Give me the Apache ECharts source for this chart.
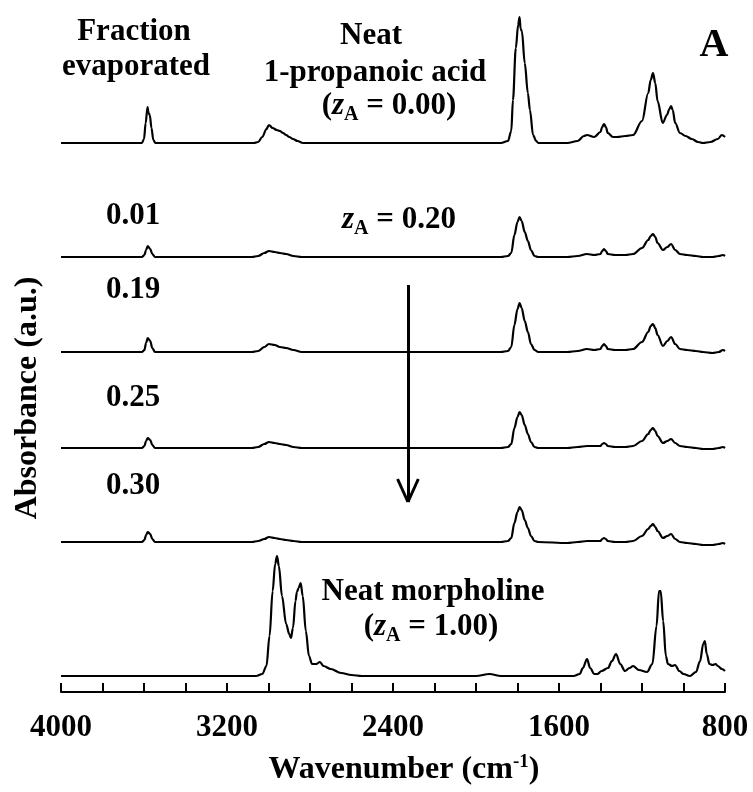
<!DOCTYPE html>
<html>
<head>
<meta charset="UTF-8">
<title>IR spectra</title>
<script src="https://cdn.jsdelivr.net/npm/echarts@6/dist/echarts.min.js"></script>
<style>
  html, body { margin: 0; padding: 0; background: #fff; }
  #main { width: 753px; height: 792px; }
</style>
</head>
<body>
<div id="main"></div>
<script type="text/javascript">
// tick labels on the wavenumber axis (cm-1)
var xTickLabels = [4000, 3200, 2400, 1600, 800];

// neat 1-propanoic acid: wavenumber / absorbance above own baseline
var wnAcid = [4000, 3700, 3610, 3600, 3592, 3583, 3578, 3572, 3564, 3555, 3545,
  3300, 3070, 3050, 3030, 3010, 2998, 2980, 2960, 2945, 2930, 2915, 2900, 2882, 2860, 2834,
  2000, 1880, 1846, 1830, 1822, 1808, 1797, 1790, 1785, 1779, 1765, 1750, 1740, 1725, 1710,
  1700, 1560, 1510, 1480, 1465, 1430, 1400, 1392, 1383, 1374, 1365, 1340, 1320, 1280, 1243,
  1200, 1170, 1158, 1147, 1136, 1125, 1100, 1080, 1068, 1060, 1052, 1040, 1017, 990, 960,
  930, 906, 870, 835, 815, 800];
var absAcid = [0, 0, 0, 0.04, 0.20, 0.36, 0.30, 0.28, 0.15, 0.03, 0,
  0, 0, 0.01, 0.06, 0.14, 0.18, 0.15, 0.13, 0.12, 0.10, 0.08, 0.06, 0.04, 0.02, 0,
  0, 0, 0.02, 0.12, 0.43, 0.95, 1.18, 1.26, 1.14, 1.12, 0.80, 0.50, 0.33, 0.08, 0.02,
  0, 0, 0.02, 0.07, 0.08, 0.06, 0.11, 0.16, 0.19, 0.16, 0.10, 0.06, 0.06, 0.07, 0.08,
  0.22, 0.50, 0.63, 0.70, 0.60, 0.42, 0.20, 0.28, 0.34, 0.37, 0.33, 0.20, 0.10, 0.07, 0.04,
  0.01, 0, 0.01, 0.04, 0.08, 0.06];

// evaporated mixtures (zA = 0.20), fraction evaporated 0.01 / 0.19 / 0.25 / 0.30
var wnMix = [4000, 3700, 3610, 3598, 3590, 3582, 3570, 3560, 3547,
  3300, 3080, 3050, 3020, 2998, 2970, 2945, 2915, 2880, 2840,
  2000, 1880, 1846, 1830, 1815, 1800, 1790, 1780, 1765, 1750, 1735, 1718,
  1700, 1560, 1510, 1465, 1430, 1400, 1392, 1383, 1374, 1365, 1330, 1280, 1243, 1200, 1170,
  1158, 1147, 1136, 1125, 1099, 1078, 1060, 1040, 1017, 983, 940, 906, 860, 830, 810, 800];
var absMix001 = [0, 0, 0, 0.02, 0.07, 0.11, 0.08, 0.03, 0,
  0, 0, 0.01, 0.04, 0.06, 0.05, 0.04, 0.03, 0.01, 0,
  0, 0, 0.01, 0.04, 0.22, 0.35, 0.40, 0.36, 0.25, 0.16, 0.07, 0.01,
  0, 0, 0.01, 0.03, 0.02, 0.03, 0.06, 0.08, 0.06, 0.03, 0.02, 0.02, 0.03, 0.09, 0.17,
  0.21, 0.23, 0.20, 0.14, 0.07, 0.10, 0.13, 0.07, 0.03, 0.02, 0.01, 0, 0, 0.01, 0.02, 0.01];
var absMix019 = [0, 0, 0, 0.02, 0.09, 0.14, 0.11, 0.04, 0,
  0, 0, 0.01, 0.05, 0.08, 0.07, 0.05, 0.04, 0.02, 0,
  0, 0, 0.01, 0.05, 0.27, 0.43, 0.49, 0.44, 0.31, 0.20, 0.08, 0.02,
  0, 0, 0.01, 0.03, 0.02, 0.03, 0.06, 0.08, 0.06, 0.03, 0.02, 0.02, 0.03, 0.10, 0.20,
  0.26, 0.28, 0.24, 0.17, 0.06, 0.11, 0.15, 0.08, 0.03, 0.02, 0.01, 0, -0.01, 0, 0.02, 0.01];
var absMix025 = [0, 0, 0, 0.02, 0.07, 0.10, 0.08, 0.03, 0,
  0, 0, 0.01, 0.04, 0.06, 0.05, 0.04, 0.03, 0.01, 0,
  0, 0, 0.01, 0.04, 0.20, 0.31, 0.36, 0.33, 0.23, 0.14, 0.06, 0.01,
  0, 0, 0.01, 0.02, 0.02, 0.02, 0.04, 0.05, 0.04, 0.02, 0.01, 0.01, 0.02, 0.07, 0.14,
  0.18, 0.20, 0.17, 0.12, 0.05, 0.07, 0.09, 0.05, 0.02, 0.01, 0, -0.01, -0.01, 0, 0.01, 0];
var absMix030 = [0, 0, 0, 0.02, 0.07, 0.10, 0.08, 0.03, 0,
  0, 0, 0.01, 0.03, 0.05, 0.04, 0.03, 0.02, 0.01, 0,
  0, 0, 0.01, 0.04, 0.19, 0.30, 0.35, 0.32, 0.22, 0.14, 0.06, 0.01,
  0, -0.01, 0, 0.01, 0.01, 0.01, 0.03, 0.04, 0.03, 0.01, 0, 0, 0.01, 0.06, 0.13,
  0.16, 0.18, 0.15, 0.11, 0.04, 0.06, 0.08, 0.03, 0, -0.01, -0.02, -0.03, -0.03, -0.02, -0.01, -0.02];

// neat morpholine (zA = 1.00)
var wnMorph = [4000, 3200, 3060, 3030, 3010, 2995, 2980, 2968, 2959, 2950, 2935, 2915, 2900,
  2892, 2882, 2870, 2863, 2855, 2845, 2835, 2820, 2805, 2790, 2770, 2752, 2735, 2700, 2650,
  2600, 2550, 2000, 1935, 1880, 1530, 1500, 1485, 1465, 1450, 1430, 1415, 1395, 1364, 1345,
  1325, 1305, 1282, 1260, 1243, 1215, 1176, 1150, 1130, 1118, 1110, 1098, 1085, 1075, 1055,
  1041, 1020, 1000, 969, 940, 920, 905, 897, 888, 875, 860, 845, 835, 815, 800];
var absMorph = [0, 0, 0, 0.02, 0.10, 0.40, 0.85, 1.12, 1.20, 1.10, 0.80, 0.52, 0.42,
  0.38, 0.48, 0.75, 0.84, 0.88, 0.93, 0.80, 0.45, 0.20, 0.12, 0.12, 0.14, 0.10, 0.07, 0.03,
  0.01, 0, 0, 0.02, 0, 0, 0.02, 0.08, 0.17, 0.08, 0.02, 0.02, 0.05, 0.08, 0.15,
  0.22, 0.12, 0.05, 0.08, 0.10, 0.06, 0.04, 0.12, 0.50, 0.85, 0.85, 0.55, 0.20, 0.12, 0.10,
  0.11, 0.05, 0.02, 0, 0.04, 0.15, 0.32, 0.35, 0.22, 0.12, 0.11, 0.12, 0.10, 0.07, 0.05];

// vertical stacking offset of each trace (a.u.)
var traceNames = ['acid', '0.01', '0.19', '0.25', '0.30', 'morpholine'];
var traceOffsets = [5.49, 4.35, 3.40, 2.44, 1.50, 0.16];

var SERIF = 'Liberation Serif';

function buildData(wn, abs, off) {
  var d = [];
  for (var i = 0; i < wn.length; i++) {
    d.push([wn[i], +(abs[i] + off).toFixed(3)]);
  }
  return d;
}

var traces = [
  [wnAcid, absAcid], [wnMix, absMix001], [wnMix, absMix019],
  [wnMix, absMix025], [wnMix, absMix030], [wnMorph, absMorph]
];

var series = [];
for (var k = 0; k < traces.length; k++) {
  series.push({
    name: traceNames[k],
    type: 'line',
    data: buildData(traces[k][0], traces[k][1], traceOffsets[k]),
    showSymbol: false,
    smooth: 0.35,
    smoothMonotone: 'x',
    lineStyle: { color: '#000', width: 2.2 },
    silent: true
  });
}

// downward arrow between the mixture traces
series[0].markLine = {
  silent: true,
  symbol: ['none', 'none'],
  label: { show: false },
  lineStyle: { color: '#000', width: 3, type: 'solid' },
  data: [
    [{ coord: [2328, 4.07] }, { coord: [2328, 1.90] }],
    [{ coord: [2378, 2.13] }, { coord: [2328, 1.90] }],
    [{ coord: [2278, 2.13] }, { coord: [2328, 1.90] }]
  ]
};

var richBase = {
  n: { fontFamily: SERIF, fontWeight: 'bold', fontSize: 31, fill: '#000' },
  i: { fontFamily: SERIF, fontWeight: 'bold', fontStyle: 'italic', fontSize: 31, fill: '#000' },
  s: { fontFamily: SERIF, fontWeight: 'bold', fontSize: 20, fill: '#000', padding: [18, 0, 0, 0] },
  sup: { fontFamily: SERIF, fontWeight: 'bold', fontSize: 19, fill: '#000', padding: [0, 0, 16, 0] },
  big: { fontFamily: SERIF, fontWeight: 'bold', fontSize: 32, fill: '#000' }
};

function label(text, x, y, rot) {
  return {
    type: 'text',
    x: x, y: y,
    rotation: rot || 0,
    silent: true,
    style: {
      text: text,
      rich: richBase,
      fontFamily: SERIF, fontWeight: 'bold', fontSize: 31,
      fill: '#000',
      align: 'center',
      verticalAlign: 'middle'
    }
  };
}

var chart = echarts.init(document.getElementById('main'));
chart.setOption({
  animation: false,
  backgroundColor: '#fff',
  grid: { left: 61, right: 28, top: 12, bottom: 100 },
  xAxis: {
    type: 'value',
    inverse: true,
    min: 800,
    max: 4000,
    interval: 800,
    axisLine: { show: true, lineStyle: { color: '#000', width: 2 } },
    axisTick: { show: true, inside: true, length: 9, lineStyle: { color: '#000', width: 2 } },
    minorTick: { show: true, splitNumber: 4, length: 9, lineStyle: { color: '#000', width: 2 } },
    splitLine: { show: false },
    axisLabel: {
      margin: 20,
      fontFamily: SERIF, fontWeight: 'bold', fontSize: 31, color: '#000',
      formatter: function (v) { return xTickLabels.indexOf(v) >= 0 ? String(v) : ''; }
    }
  },
  yAxis: {
    type: 'value',
    min: 0,
    max: 6.8,
    show: false
  },
  series: series,
  graphic: [
    label('{n|Fraction}', 134, 32),
    label('{n|evaporated}', 136, 67),
    label('{n|Neat}', 371, 36),
    label('{n|1-propanoic acid}', 375, 73),
    label('{n|(}{i|z}{s|A}{n| = 0.00)}', 389, 106),
    {
      type: 'text', x: 714, y: 46, silent: true,
      style: { text: 'A', fontFamily: SERIF, fontWeight: 'bold', fontSize: 40, fill: '#000', align: 'center', verticalAlign: 'middle' }
    },
    label('{n|0.01}', 133, 216),
    label('{i|z}{s|A}{n| = 0.20}', 399, 220),
    label('{n|0.19}', 133, 290),
    label('{n|0.25}', 133, 398),
    label('{n|0.30}', 133, 486),
    label('{n|Neat morpholine}', 433, 592),
    label('{n|(}{i|z}{s|A}{n| = 1.00)}', 431, 627),
    label('{big|Wavenumber (cm}{sup|-1}{big|)}', 404, 770),
    label('{big|Absorbance (a.u.)}', 28, 398, Math.PI / 2)
  ]
});
</script>
</body>
</html>
